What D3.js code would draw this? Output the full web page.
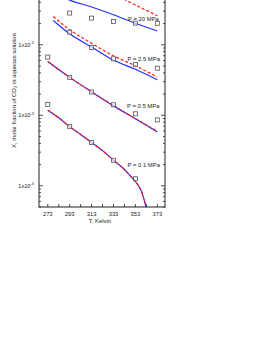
<!DOCTYPE html>
<html><head><meta charset="utf-8">
<script src="https://cdn.jsdelivr.net/npm/d3@7"></script>
<style>
html,body{margin:0;padding:0;background:#fff;}
svg text{font-family:"Liberation Sans",Arial,sans-serif;fill:#222;}
</style></head>
<body>
<svg id="chart" width="268" height="347"></svg>
<script>
// ---- data ----
const markerT = [273, 293, 313, 333, 353, 373];
const xTicks = [273, 293, 313, 333, 353, 373];
const yTickLabels = ["-4", "-3", "-2"];
const pressureLabels = ["P = 20 MPa", "P = 2.5 MPa", "P = 0.5 MPa", "P = 0.1 MPa"];

// P = 0.1 MPa
const p01T     = [273, 283, 293, 303, 313, 323, 333, 343, 348, 353, 356, 358, 360, 362, 364];
const p01Blue  = [1.18e-3, 9.2e-4, 6.9e-4, 5.35e-4, 4.1e-4, 3.15e-4, 2.3e-4, 1.7e-4, 1.4e-4, 1.15e-4, 9.9e-5, 8.7e-5, 7.1e-5, 5.5e-5, 4.1e-5];
const p01Red   = [1.18e-3, 9.2e-4, 6.9e-4, 5.35e-4, 4.1e-4, 3.15e-4, 2.3e-4, 1.7e-4, 1.4e-4, 1.15e-4, 9.9e-5, 8.7e-5, 7.1e-5, 5.5e-5, 4.1e-5];
const p01Exp   = [1.42e-3, 6.9e-4, 4.1e-4, 2.3e-4, 1.26e-4, null];

// P = 0.5 MPa
const p05T     = [273, 293, 313, 333, 353, 373];
const p05Blue  = [5.8e-3, 3.45e-3, 2.15e-3, 1.36e-3, 8.9e-4, 5.8e-4];
const p05Red   = [5.8e-3, 3.45e-3, 2.15e-3, 1.37e-3, 9.0e-4, 5.9e-4];
const p05Exp   = [6.7e-3, 3.45e-3, 2.14e-3, 1.41e-3, 1.05e-3, 8.6e-4];

// P = 2.5 MPa
const p25T     = [278, 293, 313, 333, 353, 373];
const p25Blue  = [2.21e-2, 1.43e-2, 9.3e-3, 6.07e-3, 4.49e-3, 3.19e-3];
const p25Red   = [2.52e-2, 1.63e-2, 1.05e-2, 6.98e-3, 5.04e-3, 3.49e-3];
const p25Exp   = [null, 1.51e-2, 9.15e-3, 6.32e-3, 5.28e-3, 4.65e-3];

// P = 20 MPa
const p20T     = [283, 293, 313, 333, 353, 373];
const p20Blue  = [5.0e-2, 4.3e-2, 3.44e-2, 2.67e-2, 2.02e-2, 1.57e-2];
const p20Red   = [1.02e-1, 8.9e-2, 6.9e-2, 5.2e-2, 3.67e-2, 2.58e-2];
const p20Exp   = [null, 2.82e-2, 2.39e-2, 2.14e-2, 2.03e-2, 2.02e-2];

// ---- layout ----
const L = 39, R = 165, B = 207, T = -25.7;
const svg = d3.select("#chart");
const x = d3.scaleLinear().domain([265, 380]).range([L, R]);
const y = d3.scaleLog().domain([5e-5, 1e-1]).range([B, T]);

svg.append("defs").append("clipPath").attr("id","clip")
  .append("rect").attr("x",L).attr("y",T).attr("width",R-L).attr("height",B-T);

const plot = svg.append("g").attr("clip-path","url(#clip)");

const line = d3.line().x(d=>x(d.t)).y(d=>y(d.v)).curve(d3.curveMonotoneX);
function series(ts, vs){ return ts.map((t,i)=>({t:t,v:vs[i]})); }

const groups = [
  {t:p20T, blue:p20Blue, red:p20Red, exp:p20Exp},
  {t:p25T, blue:p25Blue, red:p25Red, exp:p25Exp},
  {t:p05T, blue:p05Blue, red:p05Red, exp:p05Exp},
  {t:p01T, blue:p01Blue, red:p01Red, exp:p01Exp}
];

groups.forEach(g=>{
  plot.append("path").datum(series(g.t,g.blue)).attr("d",line)
    .attr("fill","none").attr("stroke","#1f2fff").attr("stroke-width",1.2);
  plot.append("path").datum(series(g.t,g.red)).attr("d",line)
    .attr("fill","none").attr("stroke","#ff1a1a").attr("stroke-width",1.2)
    .attr("stroke-dasharray","3,2");
});
groups.forEach(g=>{
  const pts = markerT.map((t,i)=>({t:t,v:g.exp[i]})).filter(d=>d.v!=null);
  plot.selectAll(null).data(pts).enter().append("rect")
    .attr("x",d=>x(d.t)-2).attr("y",d=>y(d.v)-2)
    .attr("width",4).attr("height",4)
    .attr("fill","#fff").attr("fill-opacity",0.6)
    .attr("stroke","#555").attr("stroke-width",0.8);
});

// frame
svg.append("rect").attr("x",L).attr("y",T).attr("width",R-L).attr("height",B-T)
  .attr("fill","none").attr("stroke","#222").attr("stroke-width",1);

// x ticks
const xt = svg.append("g");
d3.range(273, 380, 10).forEach(t=>{
  xt.append("line").attr("x1",x(t)).attr("x2",x(t)).attr("y1",B).attr("y2",B-3)
    .attr("stroke","#222").attr("stroke-width",0.8);
  xt.append("line").attr("x1",x(t)).attr("x2",x(t)).attr("y1",T).attr("y2",T+3)
    .attr("stroke","#222").attr("stroke-width",0.8);
});
xTicks.forEach(t=>{
  xt.append("text").attr("x",x(t)).attr("y",B+9).attr("text-anchor","middle")
    .attr("font-size",5.8).text(t);
});

// y ticks (log, minor 2..9)
const yt = svg.append("g");
const [ymin,ymax] = y.domain();
for(let d=-5; d<=-1; d++){
  for(let k=1;k<=9;k++){
    const v = k*Math.pow(10,d);
    if(v<ymin*0.999 || v>ymax*1.001) continue;
    const len = k===1?4:2;
    [[L,L+len],[R,R-len]].forEach(([a,b])=>{
      yt.append("line").attr("x1",a).attr("x2",b).attr("y1",y(v)).attr("y2",y(v))
        .attr("stroke","#222").attr("stroke-width",0.8);
    });
  }
}
yTickLabels.forEach(e=>{
  const v = Math.pow(10,+e);
  const tx = yt.append("text").attr("x",L-5).attr("y",y(v)+2).attr("text-anchor","end")
    .attr("font-size",5.6);
  tx.append("tspan").text("1x10");
  tx.append("tspan").attr("dy",-2.5).attr("font-size",4).text(e);
});

// pressure labels
const labelPos = [[128,20.5],[127.5,60.5],[127,108],[127.5,166.5]];
pressureLabels.forEach((s,i)=>{
  svg.append("text").attr("x",labelPos[i][0]).attr("y",labelPos[i][1])
    .attr("font-size",5.9).text(s);
});

// axis titles
svg.append("text").attr("x",(L+R)/2-2).attr("y",B+16).attr("text-anchor","middle")
  .attr("font-size",5.9).text("T, Kelvin");
const yl = svg.append("text").attr("transform",`translate(15.5,${(T+B)/2}) rotate(-90)`)
  .attr("text-anchor","middle").attr("font-size",5.9);
yl.append("tspan").text("X, molar fraction of CO");
yl.append("tspan").attr("dy",1.5).attr("font-size",4.2).text("2");
yl.append("tspan").attr("dy",-1.5).text(" in aqueous solution");
</script>
</body></html>
